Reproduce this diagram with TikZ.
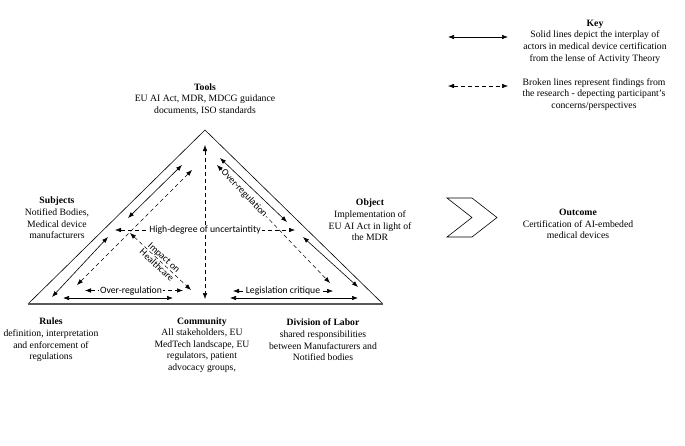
\documentclass[tikz,border=0pt]{standalone}
\usepackage{fontspec}
\setmainfont{Liberation Serif}
\newfontfamily\lblfont{Carlito}
\usetikzlibrary{arrows.meta}
\tikzset{
  txt/.style={align=center, inner sep=0pt, font=\fontsize{9.7}{11.6}\selectfont},
  sol/.style={{Latex[length=6pt,width=4.5pt]}-{Latex[length=6pt,width=4.5pt]}, line width=0.6pt},
  dsh/.style={{Latex[length=6pt,width=4.5pt]}-{Latex[length=6pt,width=4.5pt]}, line width=0.5pt, dash pattern=on 4pt off 3pt},
  alab/.style={font=\lblfont\fontsize{9.7}{10.5}\selectfont, fill=white, inner sep=1pt, align=center},
  side/.style={line width=0.6pt},
}
\begin{document}
\begin{tikzpicture}[x=1pt,y=-1pt]
\useasboundingbox (0,0) rectangle (685,445);
% outer triangle
\coordinate (apex) at (205,130);
\coordinate (bl) at (28,304);
\coordinate (br) at (383,304);
\draw[side] (bl) -- (apex) -- (br);
\draw[line width=1.3pt, black!65] (bl) -- (br);

% text nodes
\node[txt] (tools) at (205,99) {\textbf{Tools}\\EU AI Act, MDR, MDCG guidance\\documents, ISO standards};
\node[txt] (subj) at (57,218) {\textbf{Subjects}\\Notified Bodies,\\Medical device\\manufacturers};
\node[txt] (obj) at (370,220) {\textbf{Object}\\Implementation of\\EU AI Act in light of\\the MDR};
\node[txt] (outc) at (578,224) {\textbf{Outcome}\\Certification of AI-embeded\\medical devices};
\node[txt] (rules) at (51,340) {\textbf{Rules}\\definition, interpretation\\and enforcement of\\regulations};
\node[txt] (comm) at (202,345) {\textbf{Community}\\All stakeholders, EU\\MedTech landscape, EU\\regulators, patient\\advocacy groups,};
\node[txt] (div) at (323,340) {\textbf{Division of Labor}\\shared responsibilities\\between Manufacturers and\\Notified bodies};
\node[txt] (key) at (595,41.5) {\textbf{Key}\\Solid lines depict the interplay of\\actors in medical device certification\\from the lense of Activity Theory};
\node[txt] (broken) at (594,94.5) {Broken lines represent findings from\\the research - depecting participant's\\concerns/perspectives};

% chevron
\draw[line width=0.6pt] (447,198) -- (472,198) -- (497,217.5) -- (472,237) -- (447,237) -- (472,217.5) -- cycle;

% key arrows
\coordinate (k1a) at (448,37); \coordinate (k1b) at (508,37);
\coordinate (k2a) at (448,86); \coordinate (k2b) at (508,86);
\draw[sol] (k1a) -- (k1b);
\draw[dsh] (k2a) -- (k2b);

% coordinates for arrows
\coordinate (ts1) at (182,165); \coordinate (ts2) at (128,218);
\coordinate (sr1) at (108,237); \coordinate (sr2) at (52,297);
\coordinate (tr1) at (192,170); \coordinate (tr2) at (77,285);
\coordinate (to1) at (220,158); \coordinate (to2) at (287,222);
\coordinate (od1) at (303,237); \coordinate (od2) at (358,287);
\coordinate (td1) at (217,165); \coordinate (td2) at (330,283);
\coordinate (tc1) at (205,145); \coordinate (tc2) at (205,299);
\coordinate (so1) at (115,230); \coordinate (so2) at (295,230);
\coordinate (ih1) at (130,233); \coordinate (ih2) at (191,290);
\coordinate (rc1) at (63,298); \coordinate (rc2) at (173,298);
\coordinate (or1) at (85,290.5); \coordinate (or2) at (183,290.5);
\coordinate (cd1) at (230,298); \coordinate (cd2) at (358,298);
\coordinate (lc1) at (233,291); \coordinate (lc2) at (333,291);

% solid arrows
\draw[sol] (ts1) -- (ts2);
\draw[sol] (sr1) -- (sr2);
\draw[sol] (to1) -- (to2);
\draw[sol] (od1) -- (od2);
\draw[sol] (rc1) -- (rc2);
\draw[sol] (cd1) -- (cd2);

% dashed arrows
\draw[dsh] (tr1) -- (tr2);
\draw[dsh] (tc1) -- (tc2);
\draw[dsh] (td1) -- node[alab, sloped, pos=0.24] {Over-regulation} (td2);
\draw[dsh] (so1) -- node[alab, pos=0.5] {High-degree of uncertaintity} (so2);
\draw[dsh] (ih1) -- node[alab, sloped, pos=0.5, fill=none] {Impact on\\Healthcare} (ih2);
\draw[dsh] (or1) -- node[alab, pos=0.47] {Over-regulation} (or2);
\draw[dsh] (lc1) -- node[alab, pos=0.5] {Legislation critique} (lc2);
\end{tikzpicture}
\end{document}
